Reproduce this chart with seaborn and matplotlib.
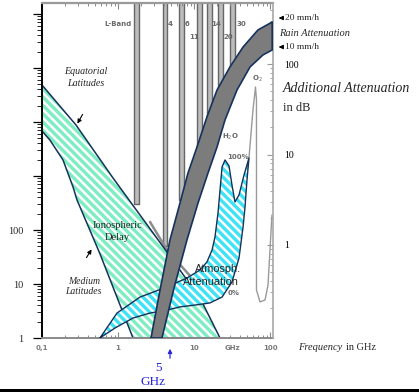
import numpy as np
import seaborn as sns
import matplotlib.pyplot as plt
from matplotlib import ticker
from matplotlib.patches import Rectangle

# ---- values ----
# x = frequency in GHz, left axis = ionospheric delay, right axis = attenuation in dB

# ionospheric delay band (left axis)
iono_eq_f = [0.1, 0.28, 0.86, 4.41, 12.0, 22.0]
iono_eq_v = [48400, 8800, 918, 39, 5.5, 1]
iono_med_f = [0.1, 0.127, 0.189, 0.256, 0.289, 0.58, 1.575]
iono_med_v = [6810, 4640, 1980, 626, 359, 36, 1]

# old scanned curve next to the ionospheric band (left axis)
scan_f = [2.64, 4.41, 9.4]
scan_v = [141, 42.7, 12.9]

# rain attenuation band (right axis)
rain20_f = [2.72, 3.57, 4.83, 6.54, 8.34, 10.95, 14.8, 20.1, 29.7, 44.2, 69.5, 107]
rain20_v = [0.094, 0.318, 1.14, 2.91, 6.25, 12.1, 26, 51.6, 92.7, 154, 238, 291]
rain10_f = [3.79, 5.46, 8.09, 11.3, 15.3, 20.1, 25.6, 36.8, 54.6, 80.9, 107]
rain10_v = [0.094, 0.335, 1.14, 2.91, 6.25, 12.1, 24.1, 51.6, 92.7, 126, 143]

# atmospheric attenuation (right axis), 100% humidity edge then 0% edge
atm_hi_f = [0.58, 0.97, 1.95, 4.41, 8.09, 12.0, 14.8, 17.3, 18.9, 20.7, 22.0, 23.4,
            25.6, 28.9, 31.6, 34.6, 39.1, 45.5, 52.9]
atm_hi_v = [0.094, 0.177, 0.266, 0.344, 0.432, 0.530, 0.649, 0.881, 1.23, 2.26, 4.05, 7.28,
            8.70, 7.46, 4.60, 2.99, 3.57, 5.93, 9.15]
atm_lo_f = [52.9, 49.8, 46.9, 44.2, 39.1, 31.6, 23.4, 16.2, 10.3, 6.54, 4.41, 2.64, 1.575, 0.913, 0.58]
atm_lo_v = [9.15, 5.23, 2.63, 1.58, 0.718, 0.390, 0.266, 0.229, 0.217, 0.207, 0.191, 0.177, 0.156, 0.121, 0.094]

# O2 line of the scan (right axis)
o2_f = [52.9, 59.7, 64.4, 66.4, 66.4, 66.4, 73.9, 86.1, 94.1, 100, 106]
o2_v = [9.15, 31, 55.7, 40, 3.14, 0.318, 0.235, 0.247, 0.361, 0.881, 2.14]

# frequency bands of the scan (GHz) and where they stop (left axis units)
band_f = [1.75, 4.15, 6.85, 11.8, 16.0, 22.3, 32.0]
band_bottom = [300, 50, 360, 3000, 8700, 25600, 91000]
band_labels = ["L-Band", "4", "6", "11", "14", "20", "30"]

x_ticks = [0.1, 1, 10, 100]
x_ticklabels = ["0,1", "1", "10", "100"]
left_ticks = [1, 10, 100, 1e3, 1e4, 1e5, 1e6]
left_ticklabels = ["1", "10", "100", "", "", "", ""]
right_ticks = [1, 10, 100]
right_ticklabels = ["1", "10", "100"]

GREEN = "#7fedc2"
CYAN = "#3fe3f5"
NAVY = "#15325c"
RAIN = "#7c7c7c"
BLUE = "#2828d8"

sns.set_theme(style="white")
plt.rcParams["hatch.linewidth"] = 1.8
plt.rcParams["font.family"] = ["Liberation Serif", "DejaVu Sans"]
plt.rcParams["mathtext.fontset"] = "dejavusans"

W, H = 419, 392


def px(x, y):
    return x / W, 1 - y / H


def outline(axis, f, v, **kw):
    sns.lineplot(x=f, y=v, sort=False, estimator=None, ax=axis, **kw)


fig = plt.figure(figsize=(W / 100, H / 100), dpi=100)
ax = fig.add_axes([42 / W, 54 / H, 231 / W, 335 / H])
ax.set_xscale("log")
ax.set_yscale("log")
ax2 = ax.twinx()
ax2.set_yscale("log")

y_top = 10 ** (335 / 54)

# scanned vertical bands
for f, bot in zip(band_f, band_bottom):
    ax.fill_between([f / 1.07, f * 1.07], bot, y_top * 2, facecolor="#bcbcbc",
                    edgecolor="#666666", lw=1.0, zorder=0.5)

outline(ax, scan_f, scan_v, color="#8c8c8c", lw=1.8, zorder=0.8)

# ionospheric delay
hatch = "\\" * 4
green_f = iono_eq_f + iono_med_f[::-1]
green_v = iono_eq_v + iono_med_v[::-1]
ax.fill(green_f, green_v, facecolor=GREEN, lw=0, zorder=1)
ax.fill(green_f, green_v, facecolor="none", edgecolor="white", hatch=hatch, lw=0, zorder=1.1)
outline(ax, green_f + [green_f[0]], green_v + [green_v[0]], color=NAVY, lw=1.1, zorder=2)

# O2 line
outline(ax2, o2_f, o2_v, color="#9a9a9a", lw=1.0, zorder=1)

# atmospheric attenuation
atm_f = atm_hi_f + atm_lo_f[1:]
atm_v = atm_hi_v + atm_lo_v[1:]
ax2.fill(atm_f, atm_v, facecolor=CYAN, lw=0, zorder=1.2)
ax2.fill(atm_f, atm_v, facecolor="none", edgecolor="white", hatch=hatch, lw=0, zorder=1.3)
outline(ax2, atm_f, atm_v, color=NAVY, lw=1.0, zorder=2)

# rain attenuation
rain_f = rain20_f + rain10_f[::-1]
rain_v = rain20_v + rain10_v[::-1]
ax2.fill(rain_f, rain_v, facecolor=RAIN, lw=0, zorder=3)
outline(ax2, rain_f + [rain_f[0]], rain_v + [rain_v[0]], color=NAVY, lw=1.2, zorder=3.5)

for a in (ax, ax2):
    a.set_xlabel("")
    a.set_ylabel("")

ax.set_xlim(0.1, 10 ** (155 / 76))
ax.set_ylim(1, y_top)
ax2.set_ylim(10 ** (-93 / 90.5), 10 ** (242 / 90.5))

# x axis (scanned, grey)
ax.xaxis.set_major_locator(ticker.FixedLocator(x_ticks))
ax.xaxis.set_major_formatter(ticker.FixedFormatter(x_ticklabels))
ax.xaxis.set_minor_locator(ticker.LogLocator(base=10, subs=np.arange(2, 10), numticks=20))
ax.xaxis.set_minor_formatter(ticker.NullFormatter())
ax.tick_params(axis="x", which="both", direction="in", top=True, bottom=True,
               color="#8a8a8a", labelcolor="#7a7a7a", labelsize=5, pad=5)
ax.tick_params(axis="x", which="major", length=4, width=0.8)
ax.tick_params(axis="x", which="minor", length=2.5, width=0.7)
for lab in ax.get_xticklabels():
    lab.set_family("DejaVu Sans")
    lab.set_weight("bold")

# left axis
ax.yaxis.set_major_locator(ticker.FixedLocator(left_ticks))
ax.yaxis.set_major_formatter(ticker.FixedFormatter(left_ticklabels))
ax.yaxis.set_minor_locator(ticker.LogLocator(base=10, subs=np.arange(2, 10), numticks=12))
ax.yaxis.set_minor_formatter(ticker.NullFormatter())
ax.tick_params(axis="y", which="both", direction="out", left=True, color="black",
               labelsize=7.5, pad=7)
ax.tick_params(axis="y", which="major", length=6.5, width=0.9)
ax.tick_params(axis="y", which="minor", length=3.5, width=0.6)

# right axis
ax2.yaxis.set_major_locator(ticker.FixedLocator(right_ticks))
ax2.yaxis.set_major_formatter(ticker.FixedFormatter(right_ticklabels))
ax2.yaxis.set_minor_locator(ticker.LogLocator(base=10, subs=np.arange(2, 10), numticks=12))
ax2.yaxis.set_minor_formatter(ticker.NullFormatter())
ax2.tick_params(axis="y", which="both", direction="in", right=True, color="#9a9a9a",
                labelcolor="black", labelsize=7, pad=8)
ax2.tick_params(axis="y", which="major", length=4, width=0.8)
ax2.tick_params(axis="y", which="minor", length=2.5, width=0.6)

for side in ("left", "top", "bottom"):
    ax2.spines[side].set_visible(False)
ax.spines["right"].set_visible(False)
ax.spines["left"].set_color("black")
ax.spines["left"].set_linewidth(1.4)
ax.spines["bottom"].set_color("#8a8a8a")
ax.spines["bottom"].set_linewidth(1.4)
ax.spines["top"].set_color("#9a9a9a")
ax.spines["top"].set_linewidth(1.6)
ax2.spines["right"].set_color("#a8a8a8")
ax2.spines["right"].set_linewidth(1.2)

# scanned grey labels
scan_kw = dict(color="#6a6a6a", fontsize=5, family="DejaVu Sans", weight="bold",
               ha="center", va="center")
for lab, (x, y) in zip(band_labels, [(118, 24), (170, 24), (187, 24), (194, 37),
                                     (216, 24), (228, 37), (241, 24)]):
    fig.text(*px(x, y), lab, **scan_kw)
fig.text(*px(230, 137), "H$_2$O", **scan_kw)
fig.text(*px(238, 157), "100%", **scan_kw)
fig.text(*px(257, 79), "O$_2$", **scan_kw)
fig.text(*px(234, 293), "0%", **scan_kw)
fig.text(*px(232, 348), "GHz", **{**scan_kw, "color": "#7a7a7a"})

serif = "Liberation Serif"
fig.text(*px(86, 71), "Equatorial", ha="center", va="center", style="italic", fontsize=7.2, family=serif)
fig.text(*px(86, 83), "Latitudes", ha="center", va="center", style="italic", fontsize=7.2, family=serif)
fig.text(*px(117, 225), "Ionospheric", ha="center", va="center", fontsize=7.6, family=serif)
fig.text(*px(117, 238), "Delay", ha="center", va="center", fontsize=7.6, family=serif)
fig.text(*px(84, 281), "Medium", ha="center", va="center", style="italic", fontsize=7, family=serif)
fig.text(*px(83, 292), "Latitudes", ha="center", va="center", style="italic", fontsize=7, family=serif)
fig.text(*px(218, 269), "Atmosph.", ha="center", va="center", fontsize=7.8, family="Liberation Sans")
fig.text(*px(210.5, 282), "Attenuation", ha="center", va="center", fontsize=7.8, family="Liberation Sans")

arrow_kw = dict(arrowstyle="-|>", color="black", lw=0.8, mutation_scale=6)
ax.annotate("", xy=px(76, 126), xytext=px(84, 112), xycoords="figure fraction",
            textcoords="figure fraction", arrowprops=arrow_kw)
ax.annotate("", xy=px(93, 247), xytext=px(85, 260), xycoords="figure fraction",
            textcoords="figure fraction", arrowprops=arrow_kw)

# 5 GHz marker
ax.annotate("", xy=px(170, 346), xytext=px(170, 361), xycoords="figure fraction",
            textcoords="figure fraction", annotation_clip=False,
            arrowprops=dict(arrowstyle="-|>", color=BLUE, lw=0.9, mutation_scale=6))
fig.text(*px(158, 368), "5", ha="center", va="center", fontsize=9.5, color=BLUE, family=serif)
fig.text(*px(153, 382), "GHz", ha="center", va="center", fontsize=9.5, color=BLUE, family=serif)

# rain labels on the right
for y, lab in [(18, "20 mm/h"), (47, "10 mm/h")]:
    ax.annotate("", xy=px(276, y), xytext=px(284, y), xycoords="figure fraction",
                textcoords="figure fraction", annotation_clip=False, arrowprops=arrow_kw)
    fig.text(*px(285, y), lab, ha="left", va="center", fontsize=6.8, family=serif)
fig.text(*px(279, 33), "Rain Attenuation", ha="left", va="center", style="italic", fontsize=7.5, family=serif)
fig.text(*px(283, 88), "Additional Attenuation", ha="left", va="center", style="italic",
         fontsize=10, family=serif)
fig.text(*px(283, 108), "in dB", ha="left", va="center", fontsize=9, family=serif)
fig.text(*px(298, 347), "Frequency", ha="left", va="center", style="italic", fontsize=7.5, family=serif)
fig.text(*px(346, 347), "in GHz", ha="left", va="center", fontsize=7.5, family=serif)

fig.add_artist(Rectangle((0, 0), 1, 3 / H, transform=fig.transFigure, facecolor="black",
                         edgecolor="none"))

fig.savefig("out.png", dpi=100)
